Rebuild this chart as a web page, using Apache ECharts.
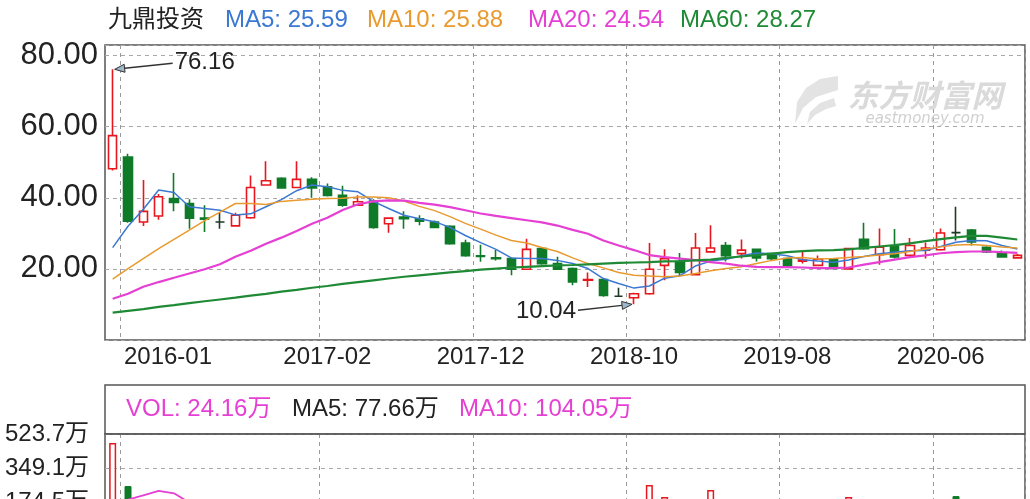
<!DOCTYPE html>
<html><head><meta charset="utf-8">
<script src="https://cdn.jsdelivr.net/npm/echarts@6/dist/echarts.min.js"></script>
<style>html,body{margin:0;padding:0;background:#fff}#c{width:1030px;height:499px}</style>
</head><body><div id="c"></div>
<script>
// ---------- DATA ----------
const months = ['2015-12','2016-01','2016-02','2016-03','2016-04','2016-05','2016-06','2016-07','2016-08','2016-09','2016-10','2016-11','2016-12',
'2017-01','2017-02','2017-03','2017-04','2017-05','2017-06','2017-07','2017-08','2017-09','2017-10','2017-11','2017-12',
'2018-01','2018-02','2018-03','2018-04','2018-05','2018-06','2018-07','2018-08','2018-09','2018-10','2018-11','2018-12',
'2019-01','2019-02','2019-03','2019-04','2019-05','2019-06','2019-07','2019-08','2019-09','2019-10','2019-11','2019-12',
'2020-01','2020-02','2020-03','2020-04','2020-05','2020-06','2020-07','2020-08','2020-09','2020-10','2020-11'];
const labelIdx = [1, 14, 24, 34, 44, 54];
// [open, close, lowest, highest]
const ohlc = [
[48.2,57.5,47.7,76.16],[51.5,33.4,33.0,52.4],[33.2,36.2,32.1,45.0],[34.9,40.3,33.8,41.1],[39.8,38.7,36.2,47.0],
[38.4,34.3,31.3,39.6],[34.3,34.0,30.4,37.9],[33.2,33.2,31.3,35.8],[32.1,35.1,32.0,35.8],[34.4,42.9,34.1,46.3],
[43.6,44.8,43.6,50.3],[45.5,42.8,42.6,45.8],[42.9,45.2,42.9,50.3],[45.2,42.8,40.0,45.8],[43.1,40.7,40.4,44.0],
[40.7,37.9,37.5,43.4],[37.9,38.9,37.9,40.7],[39.1,31.7,31.3,39.6],[32.7,34.3,30.2,34.3],[34.6,34.1,31.3,36.2],
[34.1,33.4,32.3,35.1],[33.2,31.7,31.5,33.6],[32.0,27.1,26.8,32.3],[27.3,23.7,23.4,28.2],[23.7,23.5,22.0,26.8],
[23.1,22.9,22.4,25.3],[22.9,19.9,18.2,23.2],[19.9,25.5,19.9,28.5],[25.7,21.5,21.2,26.1],[21.5,19.9,19.7,23.4],
[20.1,16.3,15.4,20.4],[16.8,17.0,14.9,19.0],[17.0,12.5,12.2,17.3],[12.3,12.3,12.3,14.7],[11.9,13.0,10.04,13.3],
[13.0,19.9,12.7,27.3],[21.0,22.9,16.8,25.5],[22.1,19.0,18.1,24.5],[18.4,25.9,18.2,30.1],[24.8,25.9,24.8,32.3],
[26.6,23.7,22.1,27.6],[24.3,25.3,22.9,28.3],[25.5,23.1,22.1,25.7],[24.3,22.9,22.4,24.5],[22.9,21.0,20.9,23.2],
[22.2,22.5,21.5,24.8],[21.0,22.7,20.9,23.8],[22.6,20.1,20.0,22.7],[20.0,25.7,19.9,25.9],[28.3,25.7,25.4,33.0],
[24.0,26.1,21.2,31.4],[26.4,23.4,22.9,31.2],[23.8,26.6,23.1,28.7],[25.3,25.9,22.9,27.4],[25.4,30.1,25.1,31.4],
[30.2,30.2,28.0,37.5],[30.9,27.6,26.6,31.2],[26.1,24.8,24.5,26.4],[24.5,23.4,23.2,25.2],[23.1,23.8,22.9,24.2]];
const ma5 = [26.0,32.0,36.8,42.2,41.5,37.5,37.0,36.5,35.2,35.5,37.5,39.5,42.0,43.6,43.1,42.1,41.7,39.0,37.0,35.1,
34.1,33.3,31.7,29.4,27.4,25.5,23.1,22.9,22.9,22.4,21.5,20.1,17.3,15.9,14.6,15.2,17.4,18.1,20.8,22.2,
22.7,23.7,24.5,24.3,23.7,22.6,22.2,21.9,22.5,23.5,24.3,24.7,25.1,25.2,26.3,27.5,28.0,27.9,26.6,25.59];
const ma10 = [17.1,20.1,22.9,25.7,28.3,30.9,33.6,36.0,38.4,38.4,38.1,39.0,39.3,39.6,39.8,39.9,40.2,40.2,40.0,39.1,
37.6,36.4,34.7,32.8,31.2,29.5,28.0,27.3,26.0,24.9,23.1,21.5,20.3,19.0,18.2,18.0,17.8,18.0,18.7,19.5,
20.1,20.6,21.5,22.4,23.1,23.2,22.8,22.9,23.2,23.5,23.9,24.3,24.9,25.6,26.2,26.7,26.9,26.6,26.2,25.88];
const ma20 = [11.6,13.0,15.0,16.3,17.5,18.7,19.9,21.3,23.4,25.1,27.1,28.8,30.7,32.7,34.4,36.6,38.2,39.0,39.3,39.2,
38.6,38.1,37.4,36.5,35.6,34.9,34.3,33.7,33.1,32.2,31.0,29.9,28.0,26.6,25.3,23.9,23.3,22.9,22.5,21.9,
21.5,20.9,20.6,20.5,20.5,20.4,20.2,20.2,20.4,21.2,21.9,22.6,23.3,23.8,24.4,24.7,24.9,24.9,24.7,24.54];
const ma60 = [7.7,8.2,8.7,9.3,9.8,10.4,10.9,11.4,11.9,12.5,13.0,13.6,14.1,14.7,15.2,15.8,16.3,16.8,17.3,17.8,
18.2,18.6,19.0,19.4,19.8,20.1,20.4,20.6,20.8,21.0,21.1,21.3,21.5,21.7,21.8,21.9,22.1,22.2,22.4,22.6,
23.1,23.5,23.9,24.3,24.7,25.0,25.2,25.3,25.5,25.9,26.3,26.7,27.2,27.8,28.4,28.9,29.3,29.3,28.8,28.27];
// volume in 万
const volume = [478,259,150,120,110,95,70,60,55,140,80,75,90,65,60,70,50,120,60,55,
45,40,85,70,45,40,60,150,90,50,80,60,90,45,60,264,203,110,180,239,
120,100,80,60,55,50,45,40,203,150,140,120,110,100,182,208,72,50,34,24.16];
const volMa5 = ['-','-','-','-',175,150,120,95,80,85,90,85,90,80,75,70,68,75,70,72,
65,55,55,58,57,55,56,70,82,80,85,78,75,70,70,110,135,150,170,175,
170,150,110,90,70,60,55,52,80,95,118,125,120,110,110,130,125,115,90,77.66];
const volMa10 = ['-',190,212,234,222,175,160,140,120,110,100,95,85,80,75,72,70,72,70,68,
62,60,62,63,60,58,60,72,75,74,70,72,75,72,74,92,105,110,120,135,
140,140,135,120,110,100,95,90,95,98,100,98,92,90,100,115,112,108,106,104.05];
const priceTicks = [20, 40, 60, 80];
const volTicks = [174.5667, 349.1333, 523.7];
const priceLegend = ['九鼎投资', 'MA5: 25.59', 'MA10: 25.88', 'MA20: 24.54', 'MA60: 28.27'];
const volLegend = ['VOL: 24.16万', 'MA5: 77.66万', 'MA10: 104.05万'];
const peak = { idx: 0, value: 76.16, text: '76.16' };
const trough = { idx: 34, value: 10.04, text: '10.04' };

// ---------- STYLE ----------
const RED = '#e8161d', GREEN = '#0f7a28', DOJI = '#1c3a24';
const C5 = '#3a78d2', C10 = '#e99a2f', C20 = '#e53fd3', C60 = '#1f8a35';
const FONT = '"Liberation Sans", "Noto Sans CJK SC", sans-serif';
const GRID_L = 105, GRID_W = 920;

const chart = echarts.init(document.getElementById('c'), null, { renderer: 'canvas' });
const isLabel = (i) => labelIdx.indexOf(i) >= 0;

const volData = volume.map((v, i) => {
  const up = ohlc[i][1] > ohlc[i][0];
  return { value: v, itemStyle: up ? { color: '#fff', borderColor: RED, borderWidth: 1.5 } : { color: GREEN, borderColor: GREEN, borderWidth: 1 } };
});

const option = {
  animation: false,
  backgroundColor: '#fff',
  grid: [
    { left: GRID_L, top: 45, width: GRID_W, height: 295, show: true, borderColor: '#555', borderWidth: 1.5, backgroundColor: 'transparent', containLabel: false, outerBoundsMode: 'none' },
    { left: GRID_L, top: 434, width: GRID_W, height: 103, show: true, borderColor: '#555', borderWidth: 1.5, backgroundColor: 'transparent', containLabel: false, outerBoundsMode: 'none' }
  ],
  xAxis: [
    { type: 'category', gridIndex: 0, data: months, boundaryGap: true,
      axisLine: { show: false }, axisTick: { show: false },
      axisLabel: { show: true, interval: (i) => isLabel(i), color: '#222', fontSize: 24, fontFamily: FONT, margin: 5,
        formatter: (v, i) => i === labelIdx[0] ? '{f|' + v + '}' : v,
        rich: { f: { fontSize: 24, fontFamily: FONT, color: '#222', padding: [0, 0, 0, 80] } } },
      splitLine: { show: true, interval: (i) => isLabel(i), lineStyle: { color: '#9a9a9a', type: [4, 4], width: 1 } } },
    { type: 'category', gridIndex: 1, data: months, boundaryGap: true,
      axisLine: { show: false }, axisTick: { show: false }, axisLabel: { show: false },
      splitLine: { show: true, interval: (i) => isLabel(i), lineStyle: { color: '#9a9a9a', type: [4, 4], width: 1 } } }
  ],
  yAxis: [
    { type: 'value', gridIndex: 0, min: 0, max: 83, interval: 20, scale: false,
      axisLine: { show: false }, axisTick: { show: false },
      axisLabel: { color: '#222', fontSize: 31, fontFamily: FONT, margin: 7,
        formatter: (v) => priceTicks.indexOf(v) >= 0 ? v.toFixed(2) : '' },
      splitLine: { show: true, lineStyle: { color: '#a8a8a8', type: [4, 4], width: 1 } } },
    { type: 'value', gridIndex: 1, min: 0, max: volTicks[2], interval: volTicks[0],
      axisLine: { show: false }, axisTick: { show: false },
      axisLabel: { color: '#222', fontSize: 24, fontFamily: FONT, margin: 16,
        formatter: (v) => v <= 0 ? '' : (Math.floor(v * 10 + 1e-6) / 10).toFixed(1) + '万' },
      splitLine: { show: true, lineStyle: { color: '#a8a8a8', type: [4, 4], width: 1 } } }
  ],
  series: [
    { name: 'K', type: 'candlestick', xAxisIndex: 0, yAxisIndex: 0, data: ohlc, barWidth: 9, z: 2,
      itemStyle: { color: '#fff', color0: GREEN, borderColor: RED, borderColor0: GREEN, borderColorDoji: DOJI, borderWidth: 1.6 } },
    { name: 'MA5', type: 'line', data: ma5, symbol: 'none', z: 3, lineStyle: { color: C5, width: 1.5 } },
    { name: 'MA10', type: 'line', data: ma10, symbol: 'none', z: 3, lineStyle: { color: C10, width: 1.5 } },
    { name: 'MA20', type: 'line', data: ma20, symbol: 'none', z: 3, lineStyle: { color: C20, width: 2.2 } },
    { name: 'MA60', type: 'line', data: ma60, symbol: 'none', z: 3, lineStyle: { color: C60, width: 2.2 } },
    { name: 'VOL', type: 'bar', xAxisIndex: 1, yAxisIndex: 1, data: volData, barWidth: 7, z: 2 },
    { name: 'VMA5', type: 'line', xAxisIndex: 1, yAxisIndex: 1, data: volMa5, symbol: 'none', z: 3, lineStyle: { color: '#222', width: 1.5 } },
    { name: 'VMA10', type: 'line', xAxisIndex: 1, yAxisIndex: 1, data: volMa10, symbol: 'none', z: 3, lineStyle: { color: C20, width: 1.8 } }
  ]
};
chart.setOption(option);

// ---------- TEXT / ANNOTATIONS ----------
function txt(x, y, s, color, size, align, font) {
  return { type: 'text', x: x, y: y, z: 20, silent: true,
    style: { text: s, fill: color, font: font || ((size || 24) + 'px ' + FONT), align: align || 'left', verticalAlign: 'middle' } };
}
function arrow(from, tip) {
  const dx = tip[0] - from[0], dy = tip[1] - from[1];
  const L = Math.sqrt(dx * dx + dy * dy), ux = dx / L, uy = dy / L;
  const bx = tip[0] - ux * 10, by = tip[1] - uy * 10, px = -uy * 4, py = ux * 4;
  return [
    { type: 'line', z: 20, silent: true, shape: { x1: from[0], y1: from[1], x2: bx, y2: by }, style: { stroke: '#333', lineWidth: 1.4 } },
    { type: 'polygon', z: 20, silent: true, shape: { points: [[tip[0], tip[1]], [bx + px, by + py], [bx - px, by - py]] }, style: { fill: '#9db8cc', stroke: '#333', lineWidth: 1 } }
  ];
}
const P = chart.convertToPixel({ gridIndex: 0 }, [peak.idx, peak.value]);
const Q = chart.convertToPixel({ gridIndex: 0 }, [trough.idx, trough.value]);

const pxTitle = [108, 225, 367, 528, 680];
const colTitle = ['#222', C5, C10, C20, C60];
const pxVol = [126, 292, 459];
const colVol = [C20, '#222', C20];

const g = [];
priceLegend.forEach((s, i) => g.push(txt(pxTitle[i], 20, s, colTitle[i], 24)));
g.push({ type: 'rect', z: 1, silent: true, shape: { x: GRID_L, y: 385, width: GRID_W, height: 49 }, style: { fill: 'none', stroke: '#555', lineWidth: 1.5 } });
volLegend.forEach((s, i) => g.push(txt(pxVol[i], 409, s, colVol[i], 24)));
// watermark (logo swoosh + text)
g.push({ type: 'polygon', z: 1, silent: true, shape: { points: [[838,76],[820,79],[806,88],[797,102],[795,124],[803,108],[816,97],[838,90]] }, style: { fill: '#e3e3e3' } });
g.push({ type: 'polygon', z: 1, silent: true, shape: { points: [[834,98],[820,103],[810,112],[807,124],[815,115],[826,109],[836,106]] }, style: { fill: '#e3e3e3' } });
g.push(txt(925, 95, '东方财富网', '#dadada', 30, 'center', 'italic bold 31px "Noto Sans CJK SC", sans-serif'));
g.push(txt(925, 119, 'eastmoney.com', '#d0d0d0', 15, 'center', 'italic 15px "DejaVu Sans", sans-serif'));
// annotations
arrow([P[0] + 60, P[1] - 6], [P[0] + 2, P[1]]).forEach(e => g.push(e));
g.push(txt(P[0] + 62, P[1] - 7, peak.text, '#222', 24, 'left'));
arrow([Q[0] - 56, Q[1] + 6], [Q[0] - 2, Q[1]]).forEach(e => g.push(e));
g.push(txt(Q[0] - 58, Q[1] + 7, trough.text, '#222', 24, 'right'));
chart.setOption({ graphic: g });
</script>
</body></html>
